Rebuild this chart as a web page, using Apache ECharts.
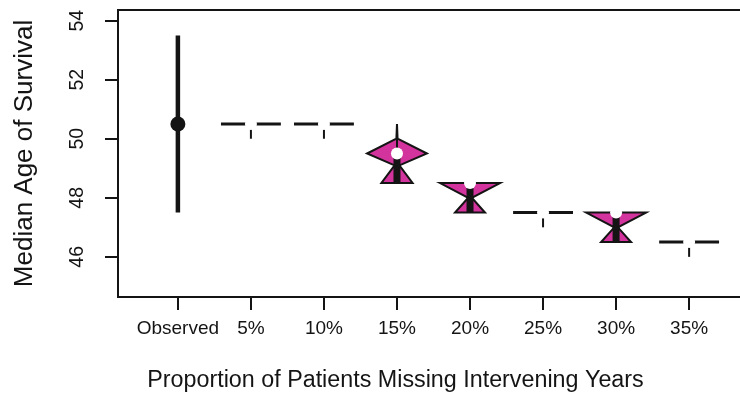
<!DOCTYPE html>
<html>
<head>
<meta charset="utf-8">
<script src="https://cdn.jsdelivr.net/npm/echarts@6/dist/echarts.min.js"></script>
<style>html,body{margin:0;padding:0;background:#fff}#c{width:740px;height:410px}</style>
</head>
<body>
<div id="c"></div>
<script>
// ---- data ----
const categories = ['Observed', '5%', '10%', '15%', '20%', '25%', '30%', '35%'];
const medians        = [50.5, 50.5, 50.5, 49.5, 48.5, 47.5, 47.5, 46.5];
const lowerQuartiles = [null, 50.5, 50.5, 48.5, 47.5, 47.5, 46.5, 46.5];
const upperQuartiles = [null, 50.5, 50.5, 49.5, 48.5, 47.5, 47.5, 46.5];
const whiskerLows    = [47.5, 50.0, 50.0, 48.5, 47.5, 47.0, 46.5, 46.0];
const whiskerHighs   = [53.5, 50.5, 50.5, 50.5, 48.5, 47.5, 47.5, 46.5];
// violin density profiles: [value, relative half-width]
const densityProfiles = [
  null,
  [[50.5, 1]],
  [[50.5, 1]],
  [[50.5, 0], [50.0, 0.02], [49.5, 1], [49.1, 0.08], [48.5, 0.52]],
  [[48.5, 1], [48.0, 0.06], [47.5, 0.5]],
  [[47.5, 1]],
  [[47.5, 1], [47.0, 0.06], [46.5, 0.5]],
  [[46.5, 1]]
];
const yTicks = [46, 48, 50, 52, 54];
const xTicks = [1, 2, 3, 4, 5, 6, 7, 8];

// ---- style ----
const HALF = 0.41;
const INK = '#141414';
const PINK = '#d2339c';
const FONT = 'Liberation Sans, Arial, sans-serif';

function renderItem(params, api) {
  const i = params.dataIndex;
  const x = i + 1;
  const children = [];
  if (i === 0) {
    const a = api.coord([x, whiskerHighs[i]]);
    const b = api.coord([x, whiskerLows[i]]);
    children.push({type: 'line', shape: {x1: a[0], y1: a[1], x2: b[0], y2: b[1]},
      style: {stroke: INK, lineWidth: 4.5}});
    const m = api.coord([x, medians[i]]);
    children.push({type: 'circle', shape: {cx: m[0], cy: m[1], r: 7.5}, style: {fill: INK}});
    return {type: 'group', children};
  }
  const prof = densityProfiles[i];
  if (prof.length === 1) {
    const l = api.coord([x - HALF, prof[0][0]]);
    const r = api.coord([x + HALF, prof[0][0]]);
    children.push({type: 'line', shape: {x1: l[0], y1: l[1], x2: r[0], y2: r[1]},
      style: {stroke: INK, lineWidth: 3}});
  } else {
    const pts = [];
    prof.forEach(p => pts.push(api.coord([x + HALF * p[1], p[0]])));
    for (let k = prof.length - 1; k >= 0; k--) pts.push(api.coord([x - HALF * prof[k][1], prof[k][0]]));
    children.push({type: 'polygon', shape: {points: pts},
      style: {fill: PINK, stroke: INK, lineWidth: 2, lineJoin: 'miter'}});
  }
  const wa = api.coord([x, whiskerHighs[i]]);
  const wb = api.coord([x, whiskerLows[i]]);
  children.push({type: 'line', shape: {x1: wa[0], y1: wa[1], x2: wb[0], y2: wb[1]},
    style: {stroke: INK, lineWidth: 2}});
  const qa = api.coord([x, upperQuartiles[i]]);
  const qb = api.coord([x, lowerQuartiles[i]]);
  children.push({type: 'rect', shape: {x: qa[0] - 3.5, y: qa[1], width: 7, height: qb[1] - qa[1]},
    style: {fill: INK}});
  const m = api.coord([x, medians[i]]);
  children.push({type: 'circle', shape: {cx: m[0], cy: m[1], r: 6}, style: {fill: '#fff'}});
  return {type: 'group', children};
}

const chart = echarts.init(document.getElementById('c'), null, {renderer: 'canvas'});
chart.setOption({
  animation: false,
  backgroundColor: '#fff',
  grid: {left: 118, top: 10, width: 631, height: 287, show: true,
    borderColor: INK, borderWidth: 2, outerBoundsMode: 'none', containLabel: false},
  xAxis: {
    type: 'value', min: 0.18, max: 8.82,
    name: 'Proportion of Patients Missing Intervening Years',
    nameLocation: 'middle', nameGap: 72,
    nameTextStyle: {fontFamily: FONT, fontSize: 23.3, color: INK, padding: [0, 76, 0, 0]},
    axisLine: {show: false},
    splitLine: {show: false},
    axisTick: {show: true, length: 13, customValues: xTicks, lineStyle: {color: INK, width: 2}},
    axisLabel: {customValues: xTicks, margin: 22, fontFamily: FONT, fontSize: 19, color: INK,
      formatter: v => categories[Math.round(v) - 1]}
  },
  yAxis: {
    type: 'value', min: 44.64, max: 54.36,
    name: 'Median Age of Survival',
    nameLocation: 'middle', nameGap: 80,
    nameTextStyle: {fontFamily: FONT, fontSize: 26, color: INK},
    axisLine: {show: false},
    splitLine: {show: false},
    axisTick: {show: true, length: 13, customValues: yTicks, lineStyle: {color: INK, width: 2}},
    axisLabel: {customValues: yTicks, rotate: 90, margin: 30, fontFamily: FONT, fontSize: 19.5, color: INK}
  },
  series: [{
    type: 'custom',
    renderItem: renderItem,
    encode: {x: 0, y: 1},
    data: categories.map((c, i) => [i + 1, medians[i]]),
    clip: false
  }]
});
</script>
</body>
</html>
